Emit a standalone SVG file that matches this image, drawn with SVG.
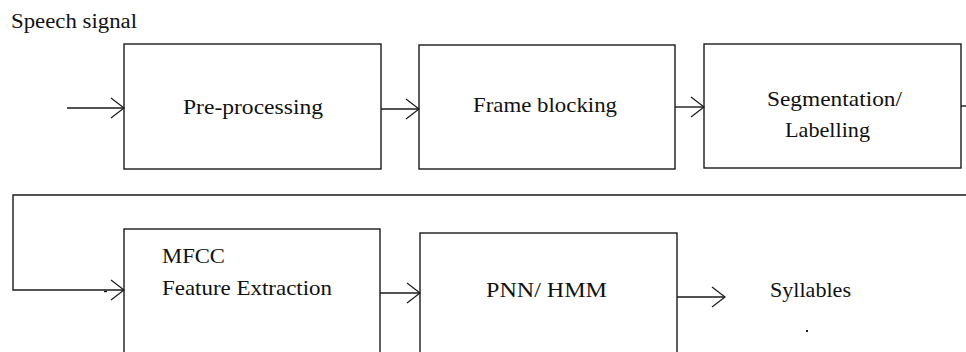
<svg xmlns="http://www.w3.org/2000/svg" width="966" height="352" viewBox="0 0 966 352">
  <style>
    .box { fill: #ffffff; stroke: #1a1a1a; stroke-width: 1.4; }
    .wire { fill: none; stroke: #1a1a1a; stroke-width: 1.4; }
    .lbl { font-family: "Liberation Serif", "Times New Roman", serif; font-size: 21px; fill: #111111; }
  </style>
  <defs>
    <marker id="open-arrow" markerUnits="userSpaceOnUse" viewBox="-14 -11 15 22" markerWidth="15" markerHeight="22" refX="0" refY="0" orient="auto">
      <path d="M -13,-10 L 0,0 L -13,10" fill="none" stroke="#1a1a1a" stroke-width="1.2"/>
    </marker>
  </defs>

  <rect width="966" height="352" fill="#ffffff"/>

  <text class="lbl" x="11" y="28" textLength="126" lengthAdjust="spacingAndGlyphs" style="font-size:20px">Speech signal</text>

  <g id="preprocessing">
    <rect class="box" x="124" y="44" width="257" height="125"/>
    <text class="lbl" x="183" y="114" textLength="140" lengthAdjust="spacingAndGlyphs" style="font-size:22px">Pre-processing</text>
  </g>

  <g id="frame-blocking">
    <rect class="box" x="419" y="45" width="256" height="124"/>
    <text class="lbl" x="473" y="112" textLength="144" lengthAdjust="spacingAndGlyphs">Frame blocking</text>
  </g>

  <g id="segmentation">
    <rect class="box" x="704" y="44" width="257" height="124"/>
    <text class="lbl" x="767" y="106" textLength="135" lengthAdjust="spacingAndGlyphs">Segmentation/</text>
    <text class="lbl" x="785" y="137" textLength="85" lengthAdjust="spacingAndGlyphs">Labelling</text>
  </g>

  <g id="mfcc">
    <rect class="box" x="124" y="229" width="256" height="135"/>
    <text class="lbl" x="162" y="263" textLength="63" lengthAdjust="spacingAndGlyphs">MFCC</text>
    <text class="lbl" x="162" y="295" textLength="170" lengthAdjust="spacingAndGlyphs">Feature Extraction</text>
  </g>

  <g id="classifier">
    <rect class="box" x="420" y="233" width="257" height="131"/>
    <text class="lbl" x="486" y="297" textLength="121" lengthAdjust="spacingAndGlyphs">PNN/ HMM</text>
  </g>

  <g id="syllables">
    <text class="lbl" x="770" y="297" textLength="81" lengthAdjust="spacingAndGlyphs">Syllables</text>
  </g>

  <g id="connectors">
    <line class="wire" x1="67" y1="108" x2="124" y2="108" marker-end="url(#open-arrow)"/>
    <line class="wire" x1="381" y1="109" x2="419" y2="109" marker-end="url(#open-arrow)"/>
    <line class="wire" x1="675" y1="107" x2="704" y2="107" marker-end="url(#open-arrow)"/>
    <line class="wire" x1="961" y1="106" x2="966" y2="106"/>
    <polyline class="wire" points="966,195 13,195 13,290 124,290" marker-end="url(#open-arrow)"/>
    <line class="wire" x1="380" y1="293" x2="420" y2="293" marker-end="url(#open-arrow)"/>
    <line class="wire" x1="677" y1="297" x2="725" y2="297" marker-end="url(#open-arrow)"/>
    <!-- small stray marks -->
    <line class="wire" x1="104" y1="291.5" x2="107" y2="291.5" stroke-width="1.2"/>
    <rect x="806" y="330" width="2" height="2" fill="#1a1a1a"/>
  </g>
</svg>
